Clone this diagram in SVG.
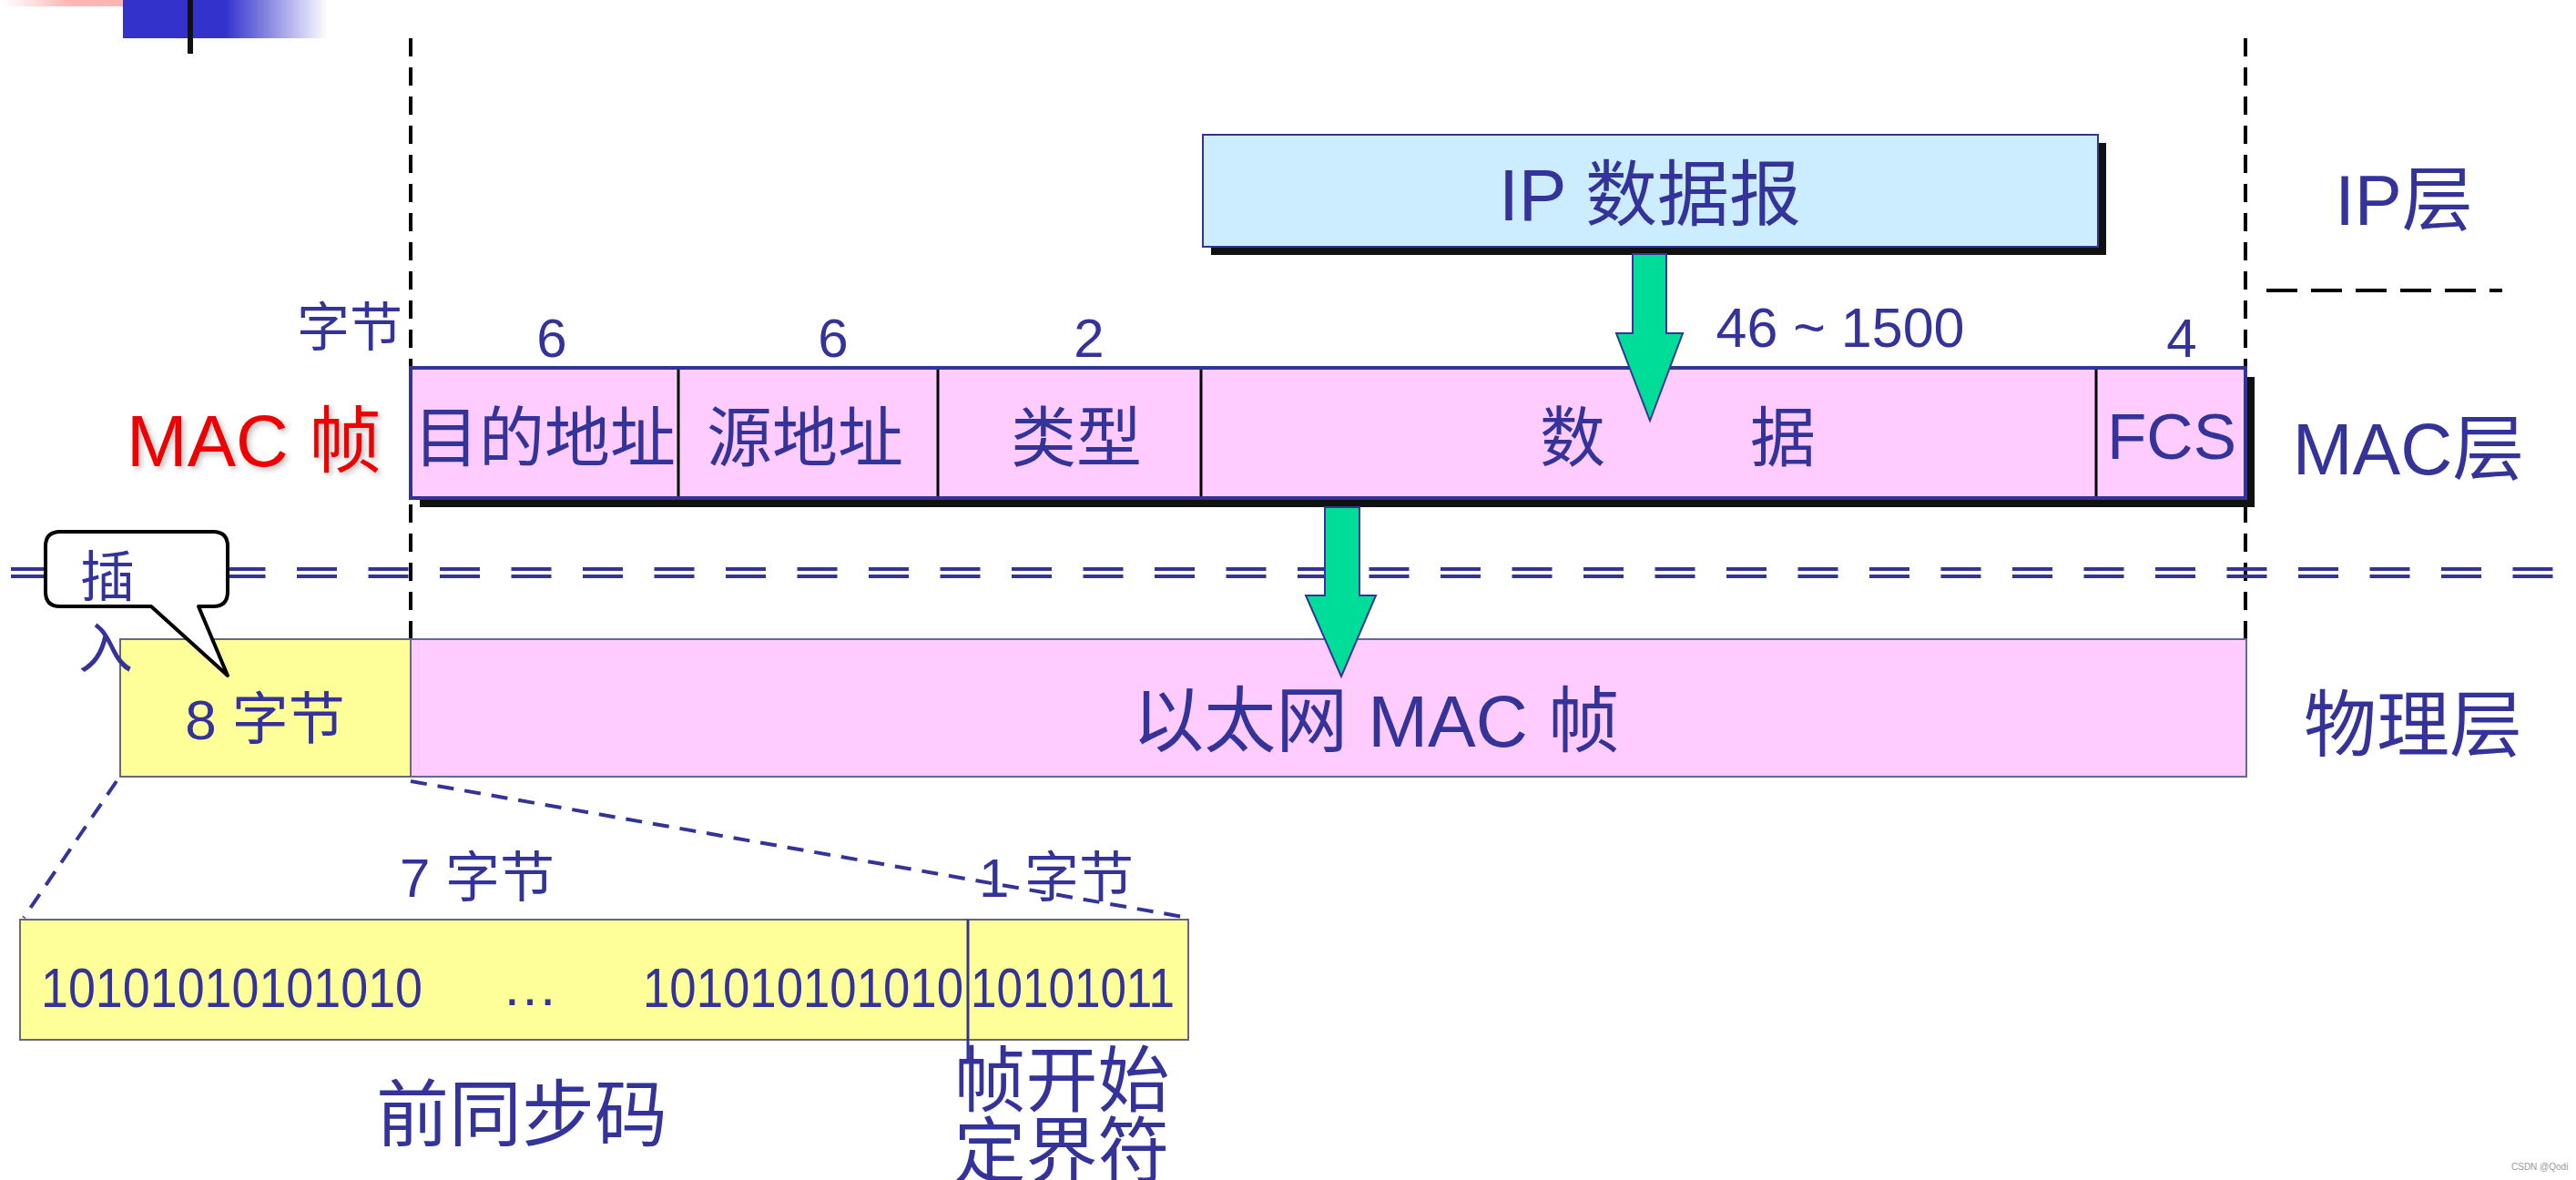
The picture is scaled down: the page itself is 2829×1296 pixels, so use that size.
<svg xmlns="http://www.w3.org/2000/svg" width="2829" height="1296" viewBox="0 0 2829 1296">
<defs>
<linearGradient id="gBlue" x1="0" y1="0" x2="1" y2="0">
<stop offset="0" stop-color="#3333CC"/>
<stop offset="0.5" stop-color="#3333CC"/>
<stop offset="1" stop-color="#3333CC" stop-opacity="0"/>
</linearGradient>
<linearGradient id="gPink" x1="0" y1="0" x2="1" y2="0">
<stop offset="0" stop-color="#FFC8C8" stop-opacity="0"/>
<stop offset="0.4" stop-color="#FFB8B8"/>
<stop offset="1" stop-color="#FFB0B0"/>
</linearGradient>
<filter id="glow" x="-10%" y="-10%" width="120%" height="120%">
<feGaussianBlur in="SourceAlpha" stdDeviation="3"/>
<feOffset dx="3" dy="3"/>
<feComponentTransfer><feFuncA type="linear" slope="0.25"/></feComponentTransfer>
<feMerge><feMergeNode/><feMergeNode in="SourceGraphic"/></feMerge>
</filter>
</defs>
<style>
text{font-family:"Liberation Sans","Noto Sans CJK SC",sans-serif;fill:#333399}
.c{text-anchor:middle}
.vdash{stroke:#000;stroke-width:4;stroke-dasharray:20 12;fill:none}
.hdash{stroke:#000;stroke-width:4;stroke-dasharray:34 15;fill:none}
.dbl{stroke:#333399;stroke-width:4;stroke-dasharray:44 34.5;fill:none}
.zoom{stroke:#333399;stroke-width:4;stroke-dasharray:18 12;fill:none}
.pink{fill:#FFCCFF}
.yellow{fill:#FFFF99;stroke:#666680;stroke-width:2}
.shadow{fill:#111}
.div{stroke:#000;stroke-width:3}
.arrow{fill:#00DD99;stroke:#333399;stroke-width:2}
</style>

<!-- top-left decoration -->
<rect x="0" y="0" width="180" height="7" fill="url(#gPink)"/>
<rect x="135" y="0" width="225" height="42" fill="url(#gBlue)"/>
<rect x="206" y="0" width="6" height="59" fill="#111"/>

<!-- layer boundary lines -->
<g id="guides">
<line class="vdash" x1="451" y1="42" x2="451" y2="702"/>
<line class="vdash" x1="2466" y1="42" x2="2466" y2="702"/>
<line class="hdash" x1="2489" y1="319" x2="2748" y2="319"/>
<line class="dbl" x1="12" y1="625" x2="2820" y2="625"/>
<line class="dbl" x1="12" y1="633" x2="2820" y2="633"/>
</g>

<!-- IP datagram -->
<g id="ip-datagram">
<rect class="shadow" x="1330" y="157" width="983" height="123"/>
<rect x="1321" y="148" width="983" height="123" fill="#CCECFF" stroke="#333399" stroke-width="2"/>
<text class="c" x="1812" y="242" font-size="79">IP 数据报</text>
</g>

<!-- MAC frame -->
<g id="mac-frame">
<rect class="shadow" x="461" y="414" width="2015" height="143"/>
<rect class="pink" x="451" y="404" width="2015" height="143" stroke="#333399" stroke-width="4"/>
<line class="div" x1="745" y1="406" x2="745" y2="545"/>
<line class="div" x1="1030" y1="406" x2="1030" y2="545"/>
<line class="div" x1="1319" y1="406" x2="1319" y2="545"/>
<line class="div" x1="2302" y1="406" x2="2302" y2="545"/>
<text class="c" x="598" y="506" font-size="72">目的地址</text>
<text class="c" x="884" y="506" font-size="72">源地址</text>
<text class="c" x="1182" y="506" font-size="72">类型</text>
<text class="c" x="1727" y="506" font-size="72">数</text>
<text class="c" x="1958" y="506" font-size="72">据</text>
<text class="c" x="2385" y="504" font-size="71">FCS</text>
</g>

<!-- byte counts -->
<g id="byte-labels">
<text class="c" x="384" y="380" font-size="58">字节</text>
<text class="c" x="606" y="392" font-size="60">6</text>
<text class="c" x="915" y="392" font-size="60">6</text>
<text class="c" x="1196" y="392" font-size="60">2</text>
<text class="c" x="2021" y="381" font-size="61">46 ~ 1500</text>
<text class="c" x="2396" y="392" font-size="60">4</text>
</g>

<text id="mac-title" x="419" y="512" font-size="80" text-anchor="end" style="fill:#EE0000" filter="url(#glow)">MAC 帧</text>

<!-- layer names -->
<g id="layer-names">
<text class="c" x="2640" y="247" font-size="78">IP层</text>
<text class="c" x="2645" y="521" font-size="79">MAC层</text>
<text class="c" x="2650" y="824" font-size="80">物理层</text>
</g>

<!-- physical layer -->
<g id="preamble-8">
<rect class="yellow" x="132" y="702" width="319" height="151"/>
<text class="c" x="291" y="812" font-size="62">8 字节</text>
</g>
<g id="ethernet-frame">
<rect class="pink" x="451" y="702" width="2016" height="151" stroke="#666699" stroke-width="2"/>
<text class="c" x="1511" y="820" font-size="79">以太网 MAC 帧</text>
</g>

<!-- callout -->
<g id="callout">
<path d="M66,584 H234 Q250,584 250,600 V650 Q250,666 234,666 H218 L250,742 L166,666 H66 Q50,666 50,650 V600 Q50,584 66,584 Z" fill="#fff" stroke="#000" stroke-width="4" stroke-linejoin="round"/>
<text x="88" y="655" font-size="60">插</text>
<text x="86" y="734" font-size="60">入</text>
</g>

<!-- arrows -->
<g id="connectors">
<polygon class="arrow" points="1793,279 1830,279 1830,366 1848,366 1812,462 1775,366 1793,366"/>
<polygon class="arrow" points="1455,557 1493,557 1493,654 1511,654 1473,743 1434,654 1455,654"/>
<line class="zoom" x1="128" y1="858" x2="26" y2="1008"/>
<line class="zoom" x1="451" y1="858" x2="1305" y2="1008"/>
</g>

<!-- preamble detail -->
<g id="preamble-detail">
<rect class="yellow" x="22" y="1010" width="1283" height="132"/>
<line x1="1063" y1="1010" x2="1063" y2="1165" stroke="#333399" stroke-width="3"/>
<text x="45" y="1106" font-size="62" textLength="419" lengthAdjust="spacingAndGlyphs">10101010101010</text>
<text x="551" y="1104" font-size="62">…</text>
<text x="706" y="1106" font-size="62" textLength="352" lengthAdjust="spacingAndGlyphs">101010101010</text>
<text x="1066" y="1106" font-size="62" textLength="224" lengthAdjust="spacingAndGlyphs">10101011</text>
<text class="c" x="524" y="985" font-size="60">7 字节</text>
<text class="c" x="1160" y="985" font-size="60">1 字节</text>
<text class="c" x="573" y="1252" font-size="80">前同步码</text>
<text class="c" x="1166" y="1215" font-size="79">帧开始</text>
<text class="c" x="1166" y="1293" font-size="79">定界符</text>
</g>

<text x="2758" y="1285" font-size="10" style="fill:#999">CSDN @Qodi</text>
</svg>
